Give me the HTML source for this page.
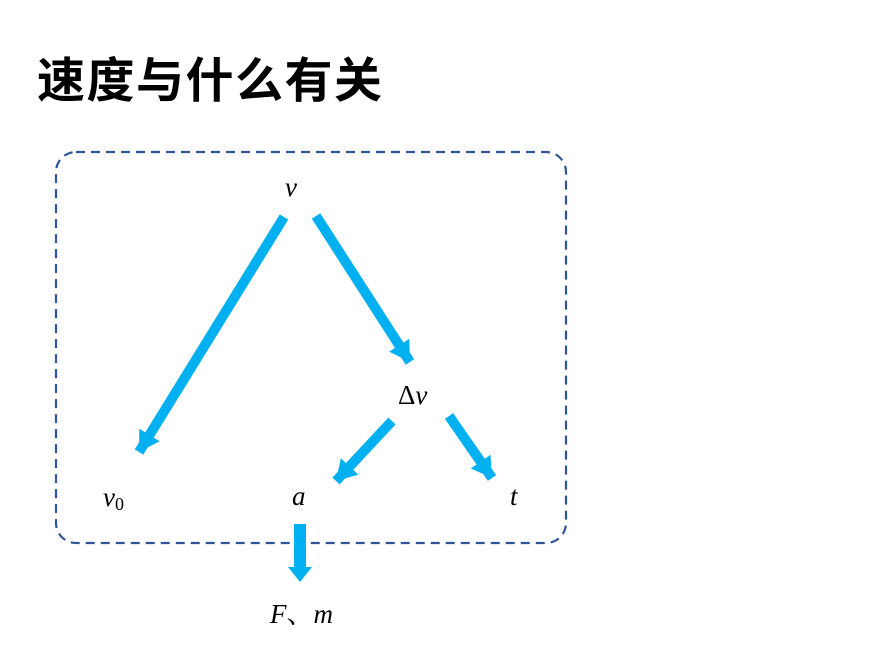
<!DOCTYPE html>
<html><head><meta charset="utf-8"><style>
body{margin:0;background:#fff;width:887px;height:665px;overflow:hidden}
</style></head><body>
<svg width="887" height="665" xmlns="http://www.w3.org/2000/svg">
<defs>
<marker id="ah" markerUnits="userSpaceOnUse" markerWidth="28" markerHeight="28" refX="20" refY="13" orient="auto">
<path d="M0,1 L20,13 L0,25 Z" fill="#00B0F0"/>
</marker>
</defs>
<text x="37" y="97" font-family="'Liberation Sans','Noto Sans CJK SC',sans-serif" font-size="48" font-weight="bold" fill="#000" letter-spacing="1.5">速度与什么有关</text>
<rect x="56" y="152" width="510" height="391" rx="20" fill="none" stroke="#2F5597" stroke-width="2.2" stroke-dasharray="9 6"/>
<g stroke="#00B0F0" stroke-width="10" marker-end="url(#ah)">
<line x1="284" y1="217" x2="139" y2="452"/>
<line x1="316" y1="216" x2="410" y2="362"/>
<line x1="392" y1="421" x2="336" y2="481"/>
<line x1="449" y1="416" x2="492" y2="478"/>
</g>
<line x1="300" y1="524" x2="300" y2="570" stroke="#00B0F0" stroke-width="12"/>
<path d="M288,567 L312,567 L300,582 Z" fill="#00B0F0"/>
<g font-family="'Liberation Serif','Noto Serif CJK SC',serif" font-style="italic" font-size="27" fill="#000">
<text x="285" y="196">v</text>
<text x="398" y="404"><tspan font-style="normal">Δ</tspan>v</text>
<text x="103" y="506">v<tspan font-style="normal" font-size="18" dy="4">0</tspan></text>
<text x="292" y="505">a</text>
<text x="510" y="505">t</text>
<text x="270" y="623">F<tspan font-style="normal">、</tspan>m</text>
</g>
</svg>
</body></html>
